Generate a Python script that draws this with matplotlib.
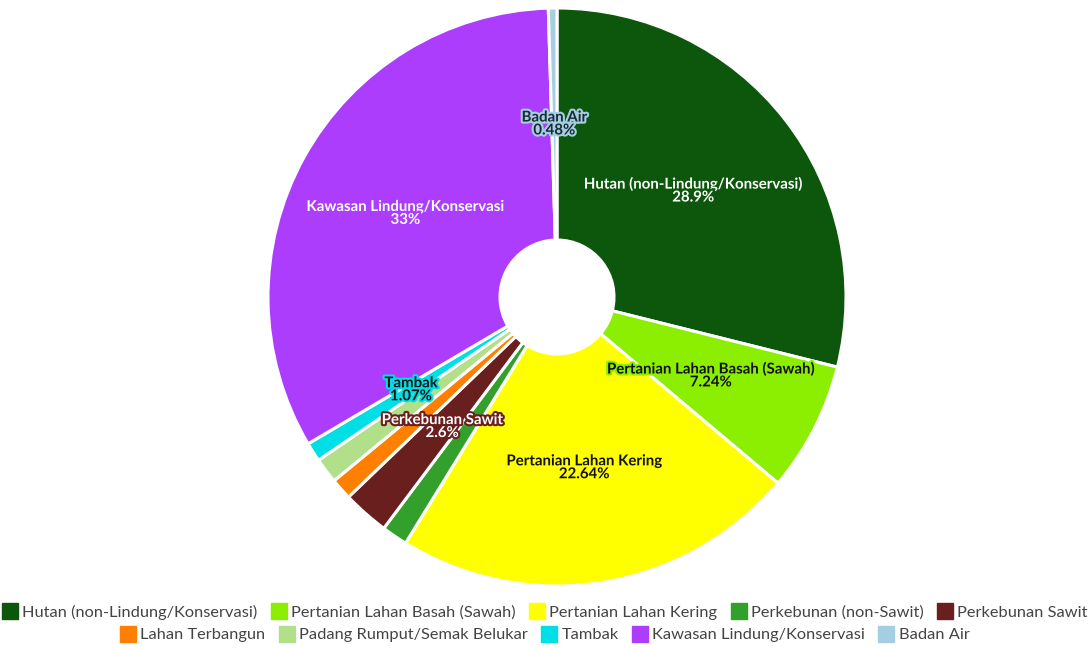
import matplotlib.pyplot as plt
import matplotlib.patheffects as pe
from matplotlib.lines import Line2D
import numpy as np

plt.rcParams['font.family'] = ['Lato', 'DejaVu Sans']

# data
kategori = ['Hutan (non-Lindung/Konservasi)', 'Pertanian Lahan Basah (Sawah)',
            'Pertanian Lahan Kering', 'Perkebunan (non-Sawit)', 'Perkebunan Sawit',
            'Lahan Terbangun', 'Padang Rumput/Semak Belukar', 'Tambak',
            'Kawasan Lindung/Konservasi', 'Badan Air']
persen = [28.9, 7.24, 22.64, 1.45, 2.6, 1.2, 1.42, 1.07, 33, 0.48]
label_persen = ['28.9%', '7.24%', '22.64%', '', '2.6%', '', '', '1.07%', '33%', '0.48%']
warna = ['#0d570d', '#8cee00', '#ffff00', '#33a02c', '#6a1f1f',
         '#ff7f00', '#b2df8a', '#00dfe6', '#ac3dfc', '#a6cee3']
warna_teks = ['white', '#111111', '#111111', '', 'white', '', '', '#111111', 'white', '#1a2a33']

W, H = 1091, 648
fig = plt.figure(figsize=(W / 100, H / 100), dpi=100)
cx, cy, R = 557, 297, 289
ax = fig.add_axes([(cx - R) / W, (H - cy - R) / H, 2 * R / W, 2 * R / H])

r_in = 57 / R
wedges, _ = ax.pie(persen, colors=warna, startangle=90, counterclock=False, radius=1,
                   wedgeprops=dict(width=1 - r_in, edgecolor='white', linewidth=2.2,
                                   joinstyle='round'))
ax.set_xlim(-1, 1)
ax.set_ylim(-1, 1)
ax.set_aspect('equal')

rmid = (1 + r_in) / 2
for i, w in enumerate(wedges):
    if label_persen[i] == '':
        continue
    ang = np.deg2rad((w.theta1 + w.theta2) / 2)
    x, y = rmid * np.cos(ang), rmid * np.sin(ang)
    ax.text(x, y, kategori[i] + '\n' + label_persen[i], ha='center', va='center',
            fontsize=10.8, fontweight='bold', color=warna_teks[i], linespacing=0.9,
            path_effects=[pe.withStroke(linewidth=3, foreground=warna[i])])

def buat_handle(c):
    return Line2D([], [], marker='s', linestyle='', markersize=11,
                  markerfacecolor=c, markeredgecolor=c)

baris = [range(0, 5), range(5, 10)]
ys = [1 - 612 / H, 1 - 635 / H]
for b, yy in zip(baris, ys):
    fig.legend([buat_handle(warna[i]) for i in b], [kategori[i] for i in b],
               loc='center', bbox_to_anchor=(0.5, yy), ncol=5, frameon=False,
               fontsize=11.8, handlelength=0.8, handletextpad=0.35, columnspacing=0.9,
               labelcolor='#444444', borderaxespad=0, borderpad=0)

fig.savefig('out.png', dpi=100)
